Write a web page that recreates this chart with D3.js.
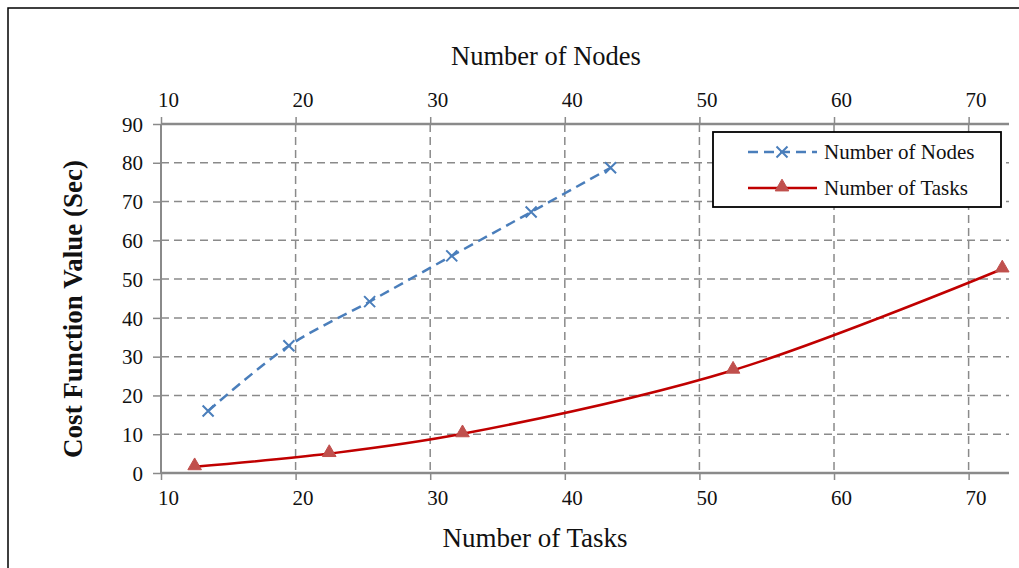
<!DOCTYPE html>
<html>
<head>
<meta charset="utf-8">
<title>Cost Function Value</title>
<script src="https://cdn.jsdelivr.net/npm/d3@7"></script>
<style>
  body { margin: 0; background: #fff; }
  svg text { font-family: "Liberation Serif", "Times New Roman", serif; fill: #111; }
</style>
</head>
<body>
<div id="main-container"></div>
<script>
// data
var nodesX = [13.5, 19.5, 25.5, 31.6, 37.5, 43.4];
var nodesY = [16, 32.8, 44.2, 56, 67.3, 78.7];
var tasksX = [12.5, 22.5, 32.4, 52.5, 72.5];
var tasksY = [1.6, 5.0, 10.1, 26.5, 52.6];
var xTicks = [10, 20, 30, 40, 50, 60, 70];
var yTicks = [0, 10, 20, 30, 40, 50, 60, 70, 80, 90];
var seriesNames = ["Number of Nodes", "Number of Tasks"];

var width = 1019, height = 568;
var pLeft = 161, pRight = 1009, pTop = 124, pBottom = 473;
var gridColor = "#8a8a8a";
var blue = "#4a7ebb", red = "#c00000", redMarker = "#c0504d";

var svg = d3.select("#main-container").append("svg")
  .attr("width", width)
  .attr("height", height);

// outer frame
svg.append("rect")
  .attr("x", 8).attr("y", 8)
  .attr("width", 1030).attr("height", 600)
  .attr("fill", "none").attr("stroke", "#000").attr("stroke-width", 1.5);

var x = d3.scaleLinear().domain([10, 73]).range([pLeft, pRight]);
var y = d3.scaleLinear().domain([0, 90]).range([pBottom, pTop]);

// gridlines
svg.append("g").selectAll("line")
  .data(yTicks.filter(function(d) { return d > 0 && d < 90; }))
  .enter().append("line")
    .attr("x1", pLeft).attr("x2", pRight)
    .attr("y1", function(d) { return y(d); })
    .attr("y2", function(d) { return y(d); })
    .attr("stroke", gridColor).attr("stroke-width", 1.5)
    .attr("stroke-dasharray", "8,5");

svg.append("g").selectAll("line")
  .data(xTicks.filter(function(d) { return d > 10; }))
  .enter().append("line")
    .attr("y1", pTop).attr("y2", pBottom)
    .attr("x1", function(d) { return x(d); })
    .attr("x2", function(d) { return x(d); })
    .attr("stroke", gridColor).attr("stroke-width", 1.5)
    .attr("stroke-dasharray", "8,5");

// axes
function styleAxis(g) {
  g.select(".domain").remove();
  g.selectAll(".tick line").attr("stroke", gridColor).attr("stroke-width", 1.5);
  g.selectAll(".tick text").attr("font-size", "21px")
    .attr("font-family", "Liberation Serif, Times New Roman, serif").attr("fill", "#111");
}

var gBottom = svg.append("g").attr("transform", "translate(0," + pBottom + ")")
  .call(d3.axisBottom(x).tickValues(xTicks).tickSize(7).tickSizeOuter(0));
styleAxis(gBottom);
gBottom.selectAll(".tick text").attr("y", 32).attr("dy", null).attr("dx", 7);

var gTop = svg.append("g").attr("transform", "translate(0," + pTop + ")")
  .call(d3.axisTop(x).tickValues(xTicks).tickSize(7).tickSizeOuter(0));
styleAxis(gTop);
gTop.selectAll(".tick text").attr("y", -17).attr("dy", null).attr("dx", 7);

var gLeft = svg.append("g").attr("transform", "translate(" + pLeft + ",0)")
  .call(d3.axisLeft(y).tickValues(yTicks).tickSize(8).tickPadding(10).tickSizeOuter(0));
styleAxis(gLeft);
gLeft.selectAll(".tick text").attr("dy", "0.34em");

// axis lines
svg.append("line").attr("x1", pLeft).attr("x2", pRight).attr("y1", pBottom).attr("y2", pBottom)
  .attr("stroke", gridColor).attr("stroke-width", 2.5);
svg.append("line").attr("x1", pLeft).attr("x2", pRight).attr("y1", pTop).attr("y2", pTop)
  .attr("stroke", gridColor).attr("stroke-width", 2.5);
svg.append("line").attr("x1", pLeft).attr("x2", pLeft).attr("y1", pTop).attr("y2", pBottom)
  .attr("stroke", gridColor).attr("stroke-width", 2);

// titles
svg.append("text").attr("x", 546).attr("y", 65).attr("text-anchor", "middle")
  .attr("font-size", "26.5px").text("Number of Nodes");
svg.append("text").attr("x", 535).attr("y", 547).attr("text-anchor", "middle")
  .attr("font-size", "27px").text("Number of Tasks");
svg.append("text")
  .attr("transform", "translate(82,309) rotate(-90)")
  .attr("text-anchor", "middle")
  .attr("font-size", "27px").attr("font-weight", "bold")
  .text("Cost Function Value (Sec)");

// series
var nodes = nodesX.map(function(d, i) { return { x: d, y: nodesY[i] }; });
var tasks = tasksX.map(function(d, i) { return { x: d, y: tasksY[i] }; });

var line = d3.line()
  .x(function(d) { return x(d.x); })
  .y(function(d) { return y(d.y); })
  .curve(d3.curveCatmullRom.alpha(0.5));

svg.append("path").datum(nodes)
  .attr("d", line).attr("fill", "none")
  .attr("stroke", blue).attr("stroke-width", 2.5)
  .attr("stroke-dasharray", "10,6");

svg.append("path").datum(tasks)
  .attr("d", line).attr("fill", "none")
  .attr("stroke", red).attr("stroke-width", 2.5);

function crossPath(s) {
  return "M" + (-s) + "," + (-s) + "L" + s + "," + s + "M" + (-s) + "," + s + "L" + s + "," + (-s);
}
var triangle = d3.symbol().type(d3.symbolTriangle).size(80);

svg.append("g").selectAll("path")
  .data(nodes)
  .enter().append("path")
    .attr("transform", function(d) { return "translate(" + x(d.x) + "," + y(d.y) + ")"; })
    .attr("d", crossPath(5.5))
    .attr("stroke", blue).attr("stroke-width", 2).attr("fill", "none");

svg.append("g").selectAll("path")
  .data(tasks)
  .enter().append("path")
    .attr("transform", function(d) { return "translate(" + x(d.x) + "," + (y(d.y) - 1) + ")"; })
    .attr("d", triangle)
    .attr("fill", redMarker).attr("stroke", redMarker).attr("stroke-width", 1);

// legend
var legend = svg.append("g");
legend.append("rect")
  .attr("x", 713).attr("y", 132).attr("width", 288).attr("height", 75)
  .attr("fill", "#fff").attr("stroke", "#000").attr("stroke-width", 1.8);

var rows = [152, 188];
legend.append("line").attr("x1", 748).attr("x2", 817).attr("y1", rows[0]).attr("y2", rows[0])
  .attr("stroke", blue).attr("stroke-width", 2.5).attr("stroke-dasharray", "10,6");
legend.append("path").attr("transform", "translate(782," + rows[0] + ")")
  .attr("d", crossPath(5.5)).attr("stroke", blue).attr("stroke-width", 2).attr("fill", "none");
legend.append("line").attr("x1", 748).attr("x2", 817).attr("y1", rows[1]).attr("y2", rows[1])
  .attr("stroke", red).attr("stroke-width", 2.5);
legend.append("path").attr("transform", "translate(782," + (rows[1] - 1) + ")")
  .attr("d", triangle).attr("fill", redMarker).attr("stroke", redMarker);

legend.selectAll("text.lbl")
  .data(seriesNames)
  .enter().append("text")
    .attr("class", "lbl")
    .attr("x", 824)
    .attr("y", function(d, i) { return rows[i] + 7; })
    .attr("font-size", "21px")
    .text(function(d) { return d; });
</script>
</body>
</html>
